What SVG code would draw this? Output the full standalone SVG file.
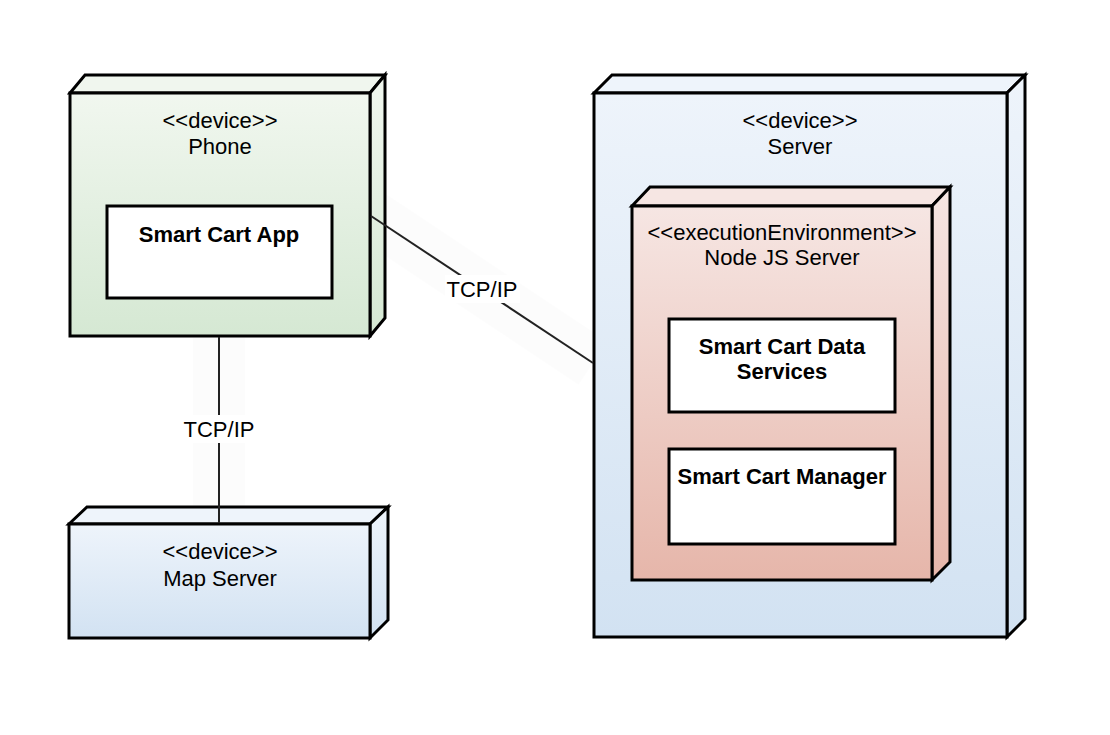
<svg xmlns="http://www.w3.org/2000/svg" width="1110" height="735" viewBox="0 0 1110 735">
<defs>
<linearGradient id="gGreen" x1="0" y1="0" x2="0" y2="1"><stop offset="0" stop-color="#f1f7ef"/><stop offset="1" stop-color="#d5e8d3"/></linearGradient>
<linearGradient id="gBlue" x1="0" y1="0" x2="0" y2="1"><stop offset="0" stop-color="#eef4fb"/><stop offset="1" stop-color="#d2e2f2"/></linearGradient>
<linearGradient id="gRed" x1="0" y1="0" x2="0" y2="1"><stop offset="0" stop-color="#f6e6e3"/><stop offset="1" stop-color="#e6b6aa"/></linearGradient>
</defs>
<style>
.node{stroke:#000;stroke-width:3;stroke-linejoin:miter}
.box{fill:#fff;stroke:#000;stroke-width:3}
.t{font-family:"Liberation Sans",Arial,sans-serif;font-size:22px;fill:#000;text-anchor:middle}
.b{font-weight:bold}
.edge{stroke:#222;stroke-width:2;fill:none}
.halo{stroke:#000;stroke-opacity:0.012;stroke-width:52;fill:none}
.lbg{fill:#fff}
</style>
<rect width="1110" height="735" fill="#fff"/>

<g id="connector-halos">
<line class="halo" x1="219" y1="338" x2="219" y2="522"/>
<line class="halo" x1="372" y1="216" x2="593" y2="363"/>
</g>

<g id="phone">
<polygon class="node" fill="#f0f6ee" points="70,93 85,75 385,75 370,93"/>
<polygon class="node" fill="url(#gGreen)" points="370,93 385,75 385,318 370,336"/>
<rect class="node" fill="url(#gGreen)" x="70" y="93" width="300" height="243"/>
<text class="t" x="220" y="128">&lt;&lt;device&gt;&gt;</text>
<text class="t" x="220" y="154">Phone</text>
</g>
<g id="smart-cart-app">
<rect class="box" x="107" y="206" width="225" height="92"/>
<text class="t b" x="219" y="242">Smart Cart App</text>
</g>

<g id="map-server">
<polygon class="node" fill="#eef4fb" points="69,524 87,507 388,507 370,524"/>
<polygon class="node" fill="url(#gBlue)" points="370,524 388,507 388,620 370,638"/>
<rect class="node" fill="url(#gBlue)" x="69" y="524" width="301" height="114"/>
<text class="t" x="220" y="559">&lt;&lt;device&gt;&gt;</text>
<text class="t" x="220" y="586">Map Server</text>
</g>

<g id="server">
<polygon class="node" fill="#eef4fb" points="594,93 612,75 1025,75 1007,93"/>
<polygon class="node" fill="url(#gBlue)" points="1007,93 1025,75 1025,619 1007,637"/>
<rect class="node" fill="url(#gBlue)" x="594" y="93" width="413" height="544"/>
<text class="t" x="800" y="128">&lt;&lt;device&gt;&gt;</text>
<text class="t" x="800" y="154">Server</text>
</g>

<g id="node-js-server">
<polygon class="node" fill="#f6e6e3" points="632,206 650,187 950,187 932,206"/>
<polygon class="node" fill="url(#gRed)" points="932,206 950,187 950,562 932,580"/>
<rect class="node" fill="url(#gRed)" x="632" y="206" width="300" height="374"/>
<text class="t" x="782" y="240">&lt;&lt;executionEnvironment&gt;&gt;</text>
<text class="t" x="782" y="265">Node JS Server</text>
</g>

<g id="smart-cart-data-services">
<rect class="box" x="669" y="319" width="226" height="93"/>
<text class="t b" x="782" y="354">Smart Cart Data</text>
<text class="t b" x="782" y="379">Services</text>
</g>

<g id="smart-cart-manager">
<rect class="box" x="669" y="449" width="226" height="95"/>
<text class="t b" x="782" y="484">Smart Cart Manager</text>
</g>

<g id="connectors">
<line class="edge" x1="219" y1="337" x2="219" y2="523"/>
<rect class="lbg" x="183" y="415" width="73" height="28"/>
<text class="t" x="219" y="437">TCP/IP</text>
<line class="edge" x1="371" y1="216" x2="593" y2="363"/>
<rect class="lbg" x="445" y="275" width="75" height="28"/>
<text class="t" x="482" y="297">TCP/IP</text>
</g>
</svg>
